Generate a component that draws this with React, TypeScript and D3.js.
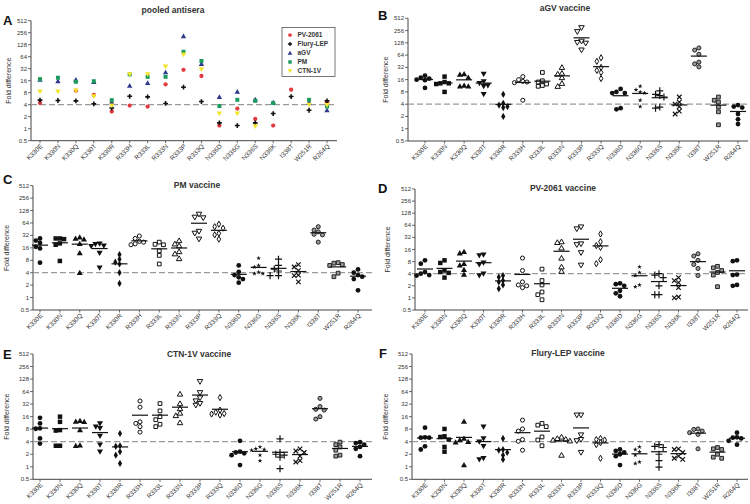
import React from "react";
import * as d3 from "d3";

const categories = ["K330E","K330N","K330Q","K330T","K330R","R333H","R333L","R333N","R333P","R333Q","N336D","N336G","N336S","N336K","I338T","W251R","R264Q"];
const yTicks = [0.5, 1, 2, 4, 8, 16, 32, 64, 128, 256, 512];
const yTickLabels = ["0.5","1","2","4","8","16","32","64","128","256","512"];
const threshold = 4;

// Panel A: pooled antisera, one value per category per antiserum
const pooledSeriesNames = ["PV-2061", "Flury-LEP", "aGV", "PM", "CTN-1V"];
const pooledPV2061 = [4.4, null, 9, 7, 2.7, 3.8, 3.6, 13, 30, 21, 1.2, 3.2, 1.75, 1.2, 9.5, null, 4.6];
const pooledFluryLEP = [5.2, 5.1, 5, 4.2, 3.3, 6.5, 6.3, 4.3, 11, 4.8, 1.4, 1.2, 1.4, 2.4, 6.4, 2.9, 5];
const pooledAGV = [17, 15.5, 17, 15, 4.6, 12, 14, 26, 210, 42, 6.3, 8.5, 5.4, 4.6, null, 4.5, 2.9];
const pooledPM = [17.5, 19, 15, 15.5, 5.2, 23, 20, 20, 85, 50, 3.7, 5.3, 5, 4.4, null, 5.3, 3.6];
const pooledCTN1V = [8.5, 8.5, 9, 6.5, 3.8, 23, 23, 36, 72, 31, 2.4, 2.4, 1.15, null, null, 4, 3.9];

// Panels B-F: individual sera per category
const aGVVaccine = [
  [20, 18, 17, 16, 15.5, 10],
  [19, 14, 13, 13, 12.5, 8],
  [22, 21.5, 18, 11.5, 11, 11],
  [22, 14.5, 13, 11.5, 11, 7],
  [7, 4.2, 3.8, 3.5, 3.3, 2],
  [19, 16, 14.5, 14, 13.5, 5],
  [24, 15, 14, 12.5, 11.5, 11],
  [32, 23, 22, 18, 13, 11],
  [300, 240, 140, 130, 125, 85],
  [55, 45, 32, 27, 24, 17],
  [9.5, 8, 7.5, 7.5, 3.2, 3],
  [11, 9, 8, 7.5, 5, 3.5],
  [8.5, 7, 6.5, 6, 3.4, 3.2],
  [6, 4.5, 4, 3.5, 2.7, 2.3],
  [96, 85, 67, 43, 39, 33],
  [6, 5, 4.5, 3.4, 2.6, 1.25],
  [3.8, 3.5, 3.3, 2.3, 1.7, 1.3],
];
const pmVaccine = [
  [27, 24, 21, 17, 15.5, 7],
  [27, 27, 26, 20.5, 19, 7.7],
  [29, 27, 26, 20, 12, 4],
  [20, 19.5, 18, 17.5, 12, 5.3],
  [11, 8.5, 7.2, 6.5, 4, 2.2],
  [31, 27, 23, 22, 20, 19],
  [22, 19.5, 19, 13.5, 10.5, 6.5],
  [24, 20, 18, 13, 11.5, 8.8],
  [104, 88, 85, 40, 36, 26],
  [60, 52, 48, 36, 33, 26],
  [6, 4.2, 3.5, 3.1, 2.8, 2.3],
  [9, 6, 5.5, 4.1, 3.8, 3.8],
  [8.5, 6, 4.9, 4.4, 3.4, 3.4],
  [6.3, 5.5, 4.5, 3.5, 3.4, 2.4],
  [52, 43, 39, 34, 33, 22],
  [7, 6.8, 6.3, 6, 3.9, 3.2],
  [4.8, 4, 3.5, 3.2, 2.8, 1.5],
];
const pv2061Vaccine = [
  [8.6, 7.1, 4.4, 4, 3.7, 3.6],
  [8.6, 7.4, 4.8, 4.4, 4.2, 3.2],
  [14, 13, 7.1, 6.5, 5, 3.8],
  [11.8, 11.4, 7.5, 6.8, 4, 3.6],
  [3.6, 3.3, 2.7, 2.5, 2.1, 1.7],
  [9.8, 4.8, 2.5, 2.1, 2, 1.8],
  [5.2, 2.7, 2.1, 1.4, 1.2, 0.9],
  [25, 24, 17.5, 9.8, 5.9, 4.6],
  [58, 52, 22, 21, 13.3, 6.5],
  [39, 25, 20, 18, 8.9, 7.1],
  [2.3, 2.2, 2, 1.5, 1.3, 1.1],
  [5.9, 4.3, 3.6, 2.1, 1.9],
  [4, 3.7, 3.2, 2, 1.2, 1.2],
  [3.2, 2.7, 2.4, 1.8, 1.05, 1],
  [12.5, 11, 8.6, 6.8, 5.4, 3.6],
  [6.1, 5.6, 4.8, 4.3, 3.7, 1.9],
  [8.6, 8.2, 3.8, 3.7, 2.1, 2],
];
const ctn1vVaccine = [
  [15, 11, 8.4, 8.2, 4.8, 3.6],
  [16, 12, 7.6, 7.4, 3.2, 3.2],
  [12.7, 12.3, 12, 7.6, 3.3, 3.2],
  [11, 9.2, 8.4, 5.5, 3.4, 2.3],
  [6.3, 3.2, 3.1, 2.3, 1.9, 1.2],
  [38, 27, 12, 11, 9.2, 6.8],
  [33, 22, 16, 13.5, 10.5, 9.2],
  [56, 33, 25, 19.5, 17, 11.5],
  [111, 60, 45, 38, 33, 30],
  [46, 23, 20.5, 19, 18.5, 17.5],
  [4.2, 2.3, 2.2, 2.1, 1.9, 1.1],
  [3, 2.7, 2.6, 2.5, 1.9, 1.4],
  [4.7, 2.2, 2, 1.9, 1.7, 0.9],
  [2.7, 2.4, 2.2, 1.8, 1.4, 1.3],
  [44, 28, 24, 23, 16, 14],
  [3.9, 3.4, 3, 2.5, 1.9, 1.8],
  [3.9, 3.7, 3.4, 3, 2.7, 1.8],
];
const fluryLEPVaccine = [
  [8.7, 5.1, 5, 5, 3.1, 2.6],
  [8.1, 5.4, 5.2, 4.5, 3, 2.3],
  [12.3, 4.8, 4.4, 4, 3.9, 1.1],
  [9.2, 4.8, 4, 3.1, 1.6, 1.5],
  [4.8, 2.6, 2.5, 2.2, 1.9, 1.5],
  [13.2, 8.1, 7.2, 4.5, 4.1, 2.5],
  [11, 10, 9.2, 5.2, 4.4, 3.2],
  [5.2, 4.8, 4.6, 4.4, 4.2, 1.9],
  [17.4, 17.4, 5.8, 4.5, 4.2, 2.2],
  [4.8, 4.5, 4.4, 3.8, 3.4, 1.6],
  [2.6, 2.4, 2.2, 2, 1.8, 1.1],
  [3, 2.6, 2.3, 1.9, 1.3, 1.2],
  [3.4, 3.1, 2.9, 2, 1.4, 0.98],
  [2.7, 2.6, 2.2, 1.8, 1.6, 1.5],
  [8.1, 7.9, 7.2, 6.6, 6, 2.7],
  [2.9, 2.7, 2.6, 2, 1.7, 1.6],
  [6.6, 5.1, 5, 4.8, 4.2, 3.4],
];

// ---- styles / layout (not data) ----
const FONT = "'Liberation Sans', Arial, Helvetica, sans-serif";
const TEXT = "#333";
const pooledColors = ["#e23a3f", "#111111", "#2e3a8c", "#1d9a5e", "#f3e52a"];
const pooledShapes = ["circle", "crossFill", "triUp", "square", "triDown"];
const categoryShapes = ["circle","square","triUp","triDown","diamond","oCircle","oSquare","oTriUp","oTriDown","oDiamond","circle","star","plus","x","gCircle","gSquare","circle"];

const layouts = [
  { key: "A", title: "pooled antisera", axisX: 31, top: 20.7, bottom: 140.7, firstX: 40, lastX: 327, endX: 337, titleX: 173, titleY: 12.5, letterX: 3, letterY: 25, labelX: 11 },
  { key: "B", title: "aGV vaccine", axisX: 408, top: 18.3, bottom: 141, firstX: 425, lastX: 738, endX: 748, titleX: 565, titleY: 10.5, letterX: 378, letterY: 20, labelX: 388 },
  { key: "C", title: "PM vaccine", axisX: 33, top: 185.7, bottom: 310, firstX: 40, lastX: 358, endX: 372, titleX: 197, titleY: 188, letterX: 3, letterY: 184, labelX: 9 },
  { key: "D", title: "PV-2061 vaccine", axisX: 415, top: 189, bottom: 310, firstX: 425, lastX: 737, endX: 748, titleX: 563, titleY: 191, letterX: 378, letterY: 193, labelX: 390 },
  { key: "E", title: "CTN-1V vaccine", axisX: 33, top: 354, bottom: 479.3, firstX: 40, lastX: 360, endX: 372, titleX: 199, titleY: 357, letterX: 3, letterY: 359, labelX: 9 },
  { key: "F", title: "Flury-LEP vaccine", axisX: 412, top: 354, bottom: 479.3, firstX: 425, lastX: 737, endX: 748, titleX: 568, titleY: 356, letterX: 379, letterY: 358, labelX: 388 },
];
const panelData: Record<string, number[][]> = {
  B: aGVVaccine, C: pmVaccine, D: pv2061Vaccine, E: ctn1vVaccine, F: fluryLEPVaccine,
};

function Marker({ shape, x, y, color = "#111", k = 1 }: { shape: string; x: number; y: number; color?: string; k?: number }) {
  const t = `translate(${x},${y})`;
  const ink = "#111";
  const s = (type: d3.SymbolType, a: number) => d3.symbol(type, a * k)()!;
  switch (shape) {
    case "circle": return <path d={s(d3.symbolCircle, 18)} transform={t} fill={color} />;
    case "square": return <path d={s(d3.symbolSquare, 20)} transform={t} fill={color} />;
    case "triUp": return <path d={s(d3.symbolTriangle, 16)} transform={`${t} translate(0,0.5)`} fill={color} />;
    case "triDown": return <path d={s(d3.symbolTriangle, 16)} transform={`${t} rotate(180) translate(0,0.5)`} fill={color} />;
    case "diamond": return <path d={s(d3.symbolDiamond, 15)} transform={t} fill={color} />;
    case "crossFill": return <path d={s(d3.symbolCross, 16)} transform={t} fill={color} />;
    case "oCircle": return <path d={s(d3.symbolCircle, 13)} transform={t} fill="#fff" stroke={ink} strokeWidth={1} />;
    case "oSquare": return <path d={s(d3.symbolSquare, 14)} transform={t} fill="#fff" stroke={ink} strokeWidth={1} />;
    case "oTriUp": return <path d={s(d3.symbolTriangle, 13)} transform={`${t} translate(0,0.5)`} fill="#fff" stroke={ink} strokeWidth={1} />;
    case "oTriDown": return <path d={s(d3.symbolTriangle, 13)} transform={`${t} rotate(180) translate(0,0.5)`} fill="#fff" stroke={ink} strokeWidth={1} />;
    case "oDiamond": return <path d={s(d3.symbolDiamond, 11)} transform={t} fill="#fff" stroke={ink} strokeWidth={1} />;
    case "star": return <path d={s(d3.symbolStar, 7)} transform={t} fill={ink} />;
    case "plus": return <path d={s(d3.symbolPlus, 18)} transform={t} fill="none" stroke={ink} strokeWidth={1.2} />;
    case "x": return <path d={s(d3.symbolX, 15)} transform={t} fill="none" stroke={ink} strokeWidth={1.2} />;
    case "gCircle": return <path d={s(d3.symbolCircle, 13)} transform={t} fill="#9a9a9a" stroke="#222" strokeWidth={1} />;
    case "gSquare": return <path d={s(d3.symbolSquare, 14)} transform={t} fill="#9a9a9a" stroke="#222" strokeWidth={1} />;
    default: return null;
  }
}

function swarm(vals: number[], y: (v: number) => number, cx: number) {
  const step = 4.2, minD = 4.2;
  const pts = vals.map((v) => ({ v, y: y(v) })).sort((a, b) => a.y - b.y);
  const placed: { x: number; y: number }[] = [];
  const order = [0, -1, 1, -2, 2, -3, 3, -4, 4];
  for (const p of pts) {
    for (const k of order) {
      const x = cx + k * step;
      if (placed.every((q) => Math.hypot(q.x - x, q.y - p.y) >= minD)) {
        placed.push({ x, y: p.y });
        break;
      }
    }
  }
  return placed;
}

function Panel({ L }: { L: typeof layouts[number] }) {
  const y = d3.scaleLog().base(2).domain([0.5, 512]).range([L.bottom, L.top]);
  const x = d3.scalePoint<string>().domain(categories).range([L.firstX, L.lastX]);
  const midY = (L.top + L.bottom) / 2;
  const isPooled = L.key === "A";
  const data = panelData[L.key];
  const pooled = [pooledPV2061, pooledFluryLEP, pooledAGV, pooledPM, pooledCTN1V];
  return (
    <g>
      <text x={L.letterX} y={L.letterY} fontSize={13} fontWeight="bold" fill="#111" fontFamily={FONT}>{L.key}</text>
      <text x={L.titleX} y={L.titleY} fontSize={8.5} fontWeight="bold" fill={TEXT} textAnchor="middle" fontFamily={FONT}>{L.title}</text>
      <text transform={`translate(${L.labelX},${midY}) rotate(-90)`} fontSize={7} fill={TEXT} textAnchor="middle" fontFamily={FONT}>Fold difference</text>
      {/* y axis */}
      <line x1={L.axisX} x2={L.axisX} y1={L.top} y2={L.bottom} stroke="#444" strokeWidth={1} />
      {yTicks.map((t, i) => (
        <g key={t}>
          <line x1={L.axisX - 3} x2={L.axisX} y1={y(t)} y2={y(t)} stroke="#444" strokeWidth={0.8} />
          <text x={L.axisX - 4} y={y(t) + 2} fontSize={6} fill={TEXT} textAnchor="end" fontFamily={FONT}>{yTickLabels[i]}</text>
        </g>
      ))}
      {/* x axis */}
      <line x1={L.axisX} x2={L.endX} y1={L.bottom} y2={L.bottom} stroke="#444" strokeWidth={1} />
      {categories.map((c) => (
        <g key={c}>
          <line x1={x(c)!} x2={x(c)!} y1={L.bottom} y2={L.bottom + 2.5} stroke="#444" strokeWidth={0.8} />
          <text transform={`translate(${x(c)! + 3},${L.bottom + 6}) rotate(-45)`} fontSize={6.5} fill={TEXT} textAnchor="end" fontFamily={FONT}>{c}</text>
        </g>
      ))}
      {/* threshold */}
      <line x1={L.axisX} x2={L.endX} y1={y(threshold)} y2={y(threshold)} stroke="#9a9a9a" strokeWidth={1.3} strokeDasharray="6,3" />
      {isPooled &&
        pooled.map((series, si) =>
          series.map((v, ci) =>
            v == null ? null : <Marker key={`${si}-${ci}`} shape={pooledShapes[si]} x={x(categories[ci])!} y={y(v)} color={pooledColors[si]} k={0.8} />
          )
        )}
      {isPooled && (
        <g>
          <rect x={282} y={27.5} width={53} height={49} fill="#fff" stroke="#555" strokeWidth={0.8} />
          {pooledSeriesNames.map((n, i) => (
            <g key={n}>
              <Marker shape={pooledShapes[i]} x={290} y={35 + i * 9} color={pooledColors[i]} k={0.6} />
              <text x={297.5} y={37.3 + i * 9} fontSize={6.5} fontWeight="bold" fill={TEXT} fontFamily={FONT}>{n}</text>
            </g>
          ))}
        </g>
      )}
      {!isPooled &&
        data.map((vals, ci) => {
          const cx = x(categories[ci])!;
          const pts = swarm(vals, y, cx);
          const m = d3.mean(vals)!;
          return (
            <g key={ci}>
              {pts.map((p, k) => (
                <Marker key={k} shape={categoryShapes[ci]} x={p.x} y={p.y} />
              ))}
              <line x1={cx - 8} x2={cx + 8} y1={y(m)} y2={y(m)} stroke="#111" strokeWidth={1.2} />
            </g>
          );
        })}
    </g>
  );
}

export default function App() {
  return (
    <svg width={750} height={504} style={{ position: "absolute", left: 0, top: 0, background: "#fff" }}>
      <rect width={750} height={504} fill="#fff" />
      {layouts.map((L) => (
        <Panel key={L.key} L={L} />
      ))}
    </svg>
  );
}
